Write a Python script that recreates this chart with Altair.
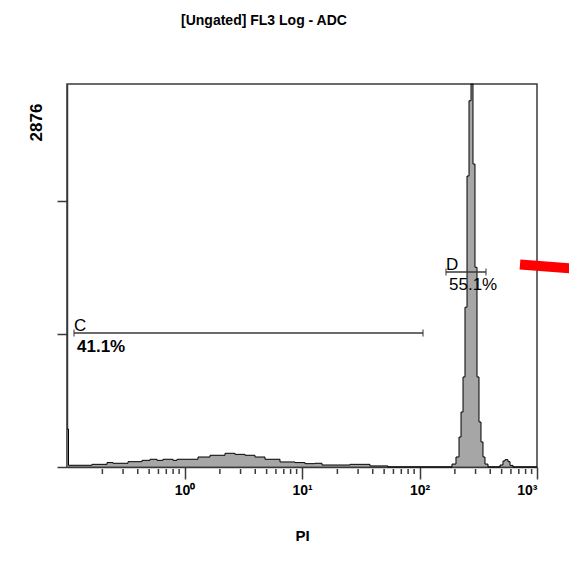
import altair as alt
import pandas as pd

# Histogram bins (left edge in PI units, count in bin)
bin_edges = [0.1, 0.1030, 0.1632, 0.2190, 0.2463, 0.3305, 0.4348, 0.5086, 0.5834,
             0.6561, 0.7982, 0.8633, 1.071, 1.303, 1.648, 2.212, 2.690, 3.272,
             3.981, 4.843, 6.497, 8.718, 10.60, 12.90, 14.80, 25.62, 37.90, 53.93,
             189.1, 204.4, 216.9, 225.6, 234.6, 243.9, 253.7, 263.8, 274.4, 285.3,
             296.7, 308.6, 320.9, 333.7, 347.0, 360.9, 382.8, 484.3, 513.5, 534.1,
             566.5, 589.2, 624.9, 1000]
bin_counts = [285, 13, 20, 33, 28, 40, 50, 58, 50,
              58, 50, 58, 58, 75, 88, 103, 95, 88,
              75, 58, 38, 33, 25, 28, 15, 20, 8, 0,
              22, 75, 225, 413, 676, 1200, 2185, 2750, 2876, 2275,
              1500, 676, 338, 188, 75, 22, 0, 15, 45, 55,
              40, 12, 0, 0]

major_ticks = [1, 10, 100, 1000]
minor_ticks = [0.2, 0.3, 0.4, 0.5, 0.6, 0.7, 0.8, 0.9,
               2, 3, 4, 5, 6, 7, 8, 9,
               20, 30, 40, 50, 60, 70, 80, 90,
               200, 300, 400, 500, 600, 700, 800, 900]
y_ticks = [0, 1000, 2000]
y_max = 2876

gate_names = ["C", "D"]
gate_pcts = ["41.1%", "55.1%"]
gate_start = [0.1147, 168.1]
gate_end = [107.1, 368.1]
gate_level = [1006, 1464]

arrow_x = [716.6, 2189]
arrow_y = [1520, 1487]

W, H = 470, 383
FONT = "Liberation Sans"
DARK = "#3a3a3a"

hist = pd.DataFrame({"pi": bin_edges, "count": bin_counts})
minor = pd.DataFrame({"pi": minor_ticks})
gates = pd.DataFrame({"name": gate_names, "pct": gate_pcts, "x1": gate_start,
                      "x2": gate_end, "y": gate_level})
gate_ends = pd.DataFrame({"x": gate_start + gate_end, "y": gate_level + gate_level})
arrow = pd.DataFrame({"x": [arrow_x[0]], "x2": [arrow_x[1]],
                      "y": [arrow_y[0]], "y2": [arrow_y[1]]})

xscale = alt.Scale(type="log", domain=[0.1, 1000], nice=False)
yscale = alt.Scale(domain=[0, y_max], nice=False)

label_expr = "'10' + ['⁰','¹','²','³'][round(log(datum.value)/LN10)]"

area = alt.Chart(hist).mark_area(
    interpolate="step-after", color="#808080",
    line={"color": "black", "strokeWidth": 1}
).encode(
    x=alt.X("pi:Q", scale=xscale,
            axis=alt.Axis(values=major_ticks, tickSize=12, tickWidth=1.5,
                          tickColor=DARK, domainColor=DARK, domainWidth=1.5,
                          labelExpr=label_expr, labelFont=FONT, labelFontSize=14,
                          labelFontWeight="bold", labelColor="black", labelPadding=4,
                          grid=False, title="PI", titleFont=FONT, titleFontSize=15,
                          titleFontWeight="bold", titleColor="black",
                          titleY=68, titleBaseline="middle")),
    y=alt.Y("count:Q", scale=yscale,
            axis=alt.Axis(values=y_ticks, labels=False, tickSize=10, tickWidth=1.5,
                          tickColor=DARK, domainColor=DARK, domainWidth=1.5,
                          grid=False, title=str(y_max), titleFont=FONT,
                          titleFontSize=17, titleFontWeight="bold",
                          titleColor="black", titleAngle=270, titleX=-31,
                          titleY=38, titleAlign="center", titleBaseline="middle")),
)

minor_rules = alt.Chart(minor).mark_rule(color=DARK, strokeWidth=1.5).encode(
    x=alt.X("pi:Q", scale=xscale),
    y=alt.value(H + 2), y2=alt.value(H + 7),
)

gate_lines = alt.Chart(gates).mark_rule(color=DARK, strokeWidth=1.5).encode(
    x=alt.X("x1:Q", scale=xscale), x2="x2:Q",
    y=alt.Y("y:Q", scale=yscale),
)

gate_caps = alt.Chart(gate_ends).mark_tick(
    orient="vertical", size=7, thickness=1.5, color=DARK
).encode(
    x=alt.X("x:Q", scale=xscale), y=alt.Y("y:Q", scale=yscale),
)

gate_names_txt = alt.Chart(gates).mark_text(
    align="left", baseline="alphabetic", dx=0, dy=-2, font=FONT, fontSize=17,
    color="black"
).encode(x=alt.X("x1:Q", scale=xscale), y=alt.Y("y:Q", scale=yscale), text="name:N")

c_pct = alt.Chart(gates[gates["name"] == "C"]).mark_text(
    align="left", baseline="top", dx=3, dy=6, font=FONT, fontSize=17,
    fontWeight="bold", color="black"
).encode(x=alt.X("x1:Q", scale=xscale), y=alt.Y("y:Q", scale=yscale), text="pct:N")

d_pct = alt.Chart(gates[gates["name"] == "D"]).mark_text(
    align="left", baseline="top", dx=3, dy=5, font=FONT, fontSize=17,
    color="black"
).encode(x=alt.X("x1:Q", scale=xscale), y=alt.Y("y:Q", scale=yscale), text="pct:N")

red = alt.Chart(arrow).mark_rule(color="#ff0000", strokeWidth=10, strokeCap="butt").encode(
    x=alt.X("x:Q", scale=xscale), x2="x2:Q",
    y=alt.Y("y:Q", scale=yscale), y2="y2:Q",
)

chart = alt.layer(
    area, minor_rules, gate_lines, gate_caps, gate_names_txt, c_pct, d_pct, red
).properties(
    width=W, height=H,
    autosize=alt.AutoSizeParams(type="none"),
    padding={"left": 59, "top": 76, "right": 32, "bottom": 95},
    background="white",
    title=alt.TitleParams(text="[Ungated] FL3 Log - ADC", font=FONT, fontSize=14,
                          fontWeight="bold", color="black", anchor="middle",
                          dx=-38, offset=43, baseline="alphabetic"),
).configure_view(stroke=DARK, strokeWidth=1.5)

chart.save("out.html", embed_options={"renderer": "svg", "actions": False})
